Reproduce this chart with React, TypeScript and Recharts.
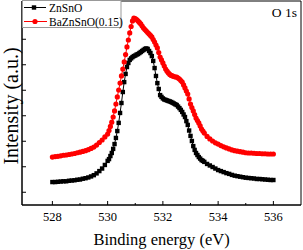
import React from 'react';
import { LineChart, Line, XAxis, YAxis, ReferenceArea } from 'recharts';

const energies = [
  528.0, 528.1, 528.2, 528.3, 528.4, 528.5, 528.6, 528.7, 528.8, 528.9,
  529.0, 529.1, 529.2, 529.3, 529.4, 529.5, 529.6, 529.7, 529.8, 529.9,
  530.0, 530.05, 530.1, 530.15, 530.2, 530.25, 530.3, 530.35, 530.4, 530.45,
  530.5, 530.55, 530.6, 530.65, 530.7, 530.75, 530.8, 530.85, 530.9, 530.95,
  531.0, 531.05, 531.1, 531.15, 531.2, 531.25, 531.3, 531.35, 531.4, 531.45,
  531.5, 531.55, 531.6, 531.65, 531.7, 531.75, 531.8, 531.85, 531.9, 531.95,
  532.0, 532.05, 532.1, 532.15, 532.2, 532.25, 532.3, 532.35, 532.4, 532.45,
  532.5, 532.55, 532.6, 532.65, 532.7, 532.75, 532.8, 532.85, 532.9, 532.95,
  533.0, 533.05, 533.1, 533.15, 533.2, 533.25, 533.3, 533.35, 533.4, 533.45,
  533.5, 533.6, 533.7, 533.8, 533.9, 534.0, 534.1, 534.2, 534.3, 534.4,
  534.5, 534.6, 534.7, 534.8, 534.9, 535.0, 535.1, 535.2, 535.3, 535.4,
  535.5, 535.6, 535.7, 535.8, 535.9, 536.0,
];

const znSnO = [
  0.90, 0.90, 0.91, 0.92, 0.93, 0.93, 0.95, 0.96, 0.97, 0.99,
  1.00, 1.03, 1.05, 1.08, 1.12, 1.17, 1.24, 1.33, 1.43, 1.57,
  1.73, 1.80, 1.92, 2.04, 2.20, 2.39, 2.63, 2.90, 3.22, 3.61,
  4.00, 4.43, 4.82, 5.14, 5.41, 5.57, 5.69, 5.75, 5.80, 5.84,
  5.86, 5.90, 5.92, 5.96, 6.00, 6.04, 6.08, 6.12, 6.14, 6.12,
  6.04, 5.96, 5.84, 5.65, 5.37, 5.06, 4.78, 4.55, 4.31, 4.24,
  4.18, 4.14, 4.12, 4.10, 4.08, 4.06, 4.04, 4.01, 3.98, 3.95,
  3.92, 3.86, 3.80, 3.73, 3.65, 3.55, 3.45, 3.29, 3.14, 2.92,
  2.71, 2.51, 2.31, 2.16, 2.04, 1.96, 1.88, 1.82, 1.76, 1.73,
  1.69, 1.61, 1.55, 1.49, 1.43, 1.37, 1.33, 1.29, 1.25, 1.22,
  1.18, 1.15, 1.13, 1.11, 1.09, 1.07, 1.06, 1.05, 1.04, 1.02,
  1.02, 1.01, 1.00, 0.99, 0.98, 0.98,
];

const baZnSnO = [
  1.88, 1.90, 1.91, 1.93, 1.95, 1.96, 1.98, 2.00, 2.02, 2.05,
  2.07, 2.10, 2.13, 2.17, 2.22, 2.27, 2.35, 2.45, 2.55, 2.67,
  2.78, 2.92, 3.08, 3.25, 3.45, 3.69, 3.96, 4.24, 4.51, 4.78,
  5.06, 5.33, 5.61, 5.90, 6.20, 6.47, 6.75, 7.00, 7.22, 7.33,
  7.31, 7.27, 7.22, 7.16, 7.10, 7.02, 6.94, 6.88, 6.82, 6.76,
  6.71, 6.65, 6.59, 6.49, 6.39, 6.27, 6.16, 5.98, 5.80, 5.69,
  5.57, 5.45, 5.33, 5.25, 5.18, 5.12, 5.08, 5.06, 5.04, 5.02,
  5.02, 4.98, 4.94, 4.88, 4.82, 4.71, 4.59, 4.47, 4.35, 4.16,
  3.96, 3.82, 3.69, 3.55, 3.41, 3.31, 3.22, 3.10, 2.98, 2.90,
  2.82, 2.69, 2.59, 2.51, 2.44, 2.39, 2.33, 2.28, 2.24, 2.20,
  2.16, 2.13, 2.11, 2.09, 2.07, 2.05, 2.04, 2.04, 2.03, 2.02,
  2.02, 2.01, 2.01, 2.00, 2.00, 2.00,
];

const xTicks = [528, 529, 530, 531, 532, 533, 534, 535, 536];
const xLabelTicks = [528, 530, 532, 534, 536];
const yTicks = [0.5, 1.5, 2.5, 3.5, 4.5, 5.5, 6.5, 7.5];
const seriesNames = ['ZnSnO', 'BaZnSnO(0.15)'];

const data = energies.map((e, i) => ({ e, a: znSnO[i], b: baZnSnO[i] }));

const FONT = '"Liberation Serif", "Times New Roman", serif';

const XTick = (props: any) => {
  const { x, y, payload } = props;
  const major = xLabelTicks.includes(payload.value);
  return (
    <g>
      <line x1={x} x2={x} y1={y} y2={y - (major ? 4 : 2)} stroke="#000" strokeWidth={1} />
      {major && (
        <text x={x} y={y + 16} textAnchor="middle" fontSize={12.5} fontFamily={FONT} fill="#000">
          {payload.value}
        </text>
      )}
    </g>
  );
};

const YTick = (props: any) => {
  const { x, y } = props;
  return <line x1={x} x2={x + 4} y1={y} y2={y} stroke="#000" strokeWidth={1} />;
};

const SquareDot = (p: any) => (
  <rect key={`sq-${p.index}`} x={p.cx - 2.2} y={p.cy - 2.2} width={4.4} height={4.4} fill="#000" />
);

export default function App() {
  return (
    <div style={{ position: 'absolute', left: 0, top: 0, width: 303, height: 250, background: '#fff' }}>
      <LineChart width={303} height={250} data={data} margin={{ top: 1, right: 2, left: 0, bottom: 0 }}>
        <XAxis
          dataKey="e"
          type="number"
          domain={[526.9, 537]}
          ticks={xTicks}
          allowDataOverflow
          height={45}
          tickSize={0}
          tickMargin={0}
          tickLine={false}
          tick={<XTick />}
          axisLine={{ stroke: '#000' }}
          interval={0}
        />
        <YAxis
          type="number"
          domain={[0, 8]}
          ticks={yTicks}
          allowDataOverflow
          width={22}
          tickSize={0}
          tickMargin={0}
          tickLine={false}
          tick={<YTick />}
          axisLine={{ stroke: '#000' }}
          interval={0}
        />
        <ReferenceArea x1={526.9} x2={537} y1={0} y2={8} fill="none" stroke="#000" strokeWidth={1} ifOverflow="extendDomain" />
        <Line
          dataKey="a"
          name={seriesNames[0]}
          stroke="#000"
          strokeWidth={1}
          dot={SquareDot}
          activeDot={false}
          isAnimationActive={false}
        />
        <Line
          dataKey="b"
          name={seriesNames[1]}
          stroke="#ff0000"
          strokeWidth={1}
          dot={{ r: 2.6, fill: '#ff0000', stroke: 'none' }}
          activeDot={false}
          isAnimationActive={false}
        />
      </LineChart>
      <svg width={303} height={250} style={{ position: 'absolute', left: 0, top: 0, pointerEvents: 'none' }}>
        <rect x={22.5} y={0.5} width={98.5} height={27} fill="#fff" stroke="#999" strokeWidth={1} />
        <line x1={24} x2={46} y1={7.5} y2={7.5} stroke="#000" strokeWidth={1} />
        <rect x={31.8} y={5.3} width={4.4} height={4.4} fill="#000" />
        <text x={49} y={11.5} fontSize={11.5} fontFamily={FONT} fill="#000">{seriesNames[0]}</text>
        <line x1={24} x2={47} y1={21.5} y2={21.5} stroke="#ff0000" strokeWidth={1} />
        <circle cx={35} cy={21.5} r={2.6} fill="#ff0000" />
        <text x={49} y={25.5} fontSize={11.5} fontFamily={FONT} fill="#000">{seriesNames[1]}</text>
        <text x={297} y={17} textAnchor="end" fontSize={13.5} fontFamily={FONT} fill="#000">O 1s</text>
        <text x={161.5} y={245} textAnchor="middle" fontSize={16.5} fontFamily={FONT} fill="#000">Binding energy (eV)</text>
        <text x={18} y={106} textAnchor="middle" fontSize={20} fontFamily={FONT} fill="#000" transform="rotate(-90 18 106)">Intensity (a.u.)</text>
      </svg>
    </div>
  );
}
